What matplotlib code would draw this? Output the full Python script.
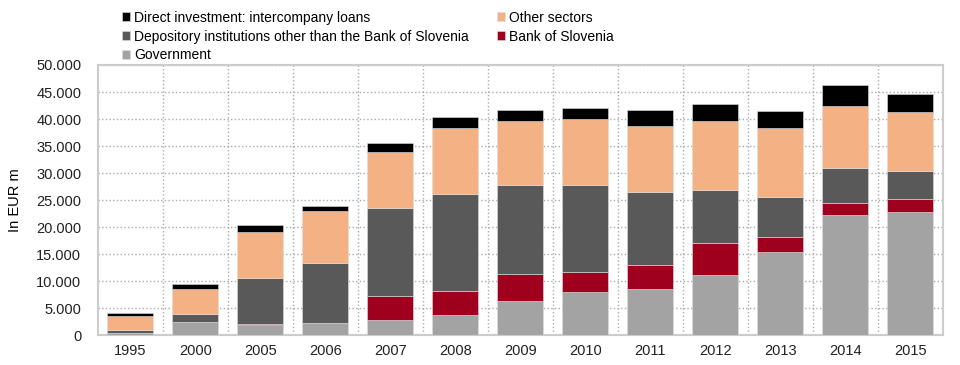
import matplotlib as mpl
import matplotlib.pyplot as plt
from matplotlib.ticker import FuncFormatter, MultipleLocator
import numpy as np

plt.rcParams['font.family'] = ['Liberation Sans Narrow', 'Liberation Sans', 'DejaVu Sans']
plt.rcParams['font.size'] = 10

years = ['1995', '2000', '2005', '2006', '2007', '2008', '2009',
         '2010', '2011', '2012', '2013', '2014', '2015']

# EUR m
government = [460, 2400, 1900, 2250, 2900, 3700, 6400, 8000, 8600, 11100, 15400, 22300, 22900]
bank_of_slovenia = [50, 50, 200, 50, 4400, 4600, 5000, 3800, 4400, 6000, 2800, 2100, 2300]
depository = [500, 1450, 8500, 11000, 16300, 17900, 16400, 16000, 13500, 9800, 7400, 6600, 5200]
other_sectors = [2500, 4600, 8600, 9700, 10400, 12100, 11800, 12200, 12200, 12700, 12700, 11500, 10900]
direct_loans = [600, 1000, 1200, 1000, 1600, 2000, 2100, 2100, 2900, 3200, 3200, 3800, 3400]

series = [
    ('Government', government, '#a3a3a3'),
    ('Bank of Slovenia', bank_of_slovenia, '#9e001e'),
    ('Depository institutions other than the Bank of Slovenia', depository, '#595959'),
    ('Other sectors', other_sectors, '#f4b183'),
    ('Direct investment: intercompany loans', direct_loans, '#000000'),
]

fig, ax = plt.subplots(figsize=(9.6, 3.65), dpi=100)
plt.subplots_adjust(left=0.102, right=0.982, bottom=0.081, top=0.822)

pos = np.arange(len(years))
width = 0.71
bottom = np.zeros(len(years))
bars = {}
for name, vals, col in series:
    bars[name] = ax.bar(pos, vals, width, bottom=bottom, color=col, label=name,
                        edgecolor='#dddddd', linewidth=0.4, zorder=3)
    bottom += np.array(vals)

ax.set_xlim(-0.5, len(years) - 0.5)
ax.set_ylim(0, 50000)
ax.set_xticks(pos)
ax.set_xticklabels(years)
ax.set_xticks(pos[:-1] + 0.5, minor=True)
ax.yaxis.set_major_locator(MultipleLocator(5000))
ax.yaxis.set_major_formatter(FuncFormatter(lambda v, p: '0' if v == 0 else f'{int(v):,}'.replace(',', '.')))
ax.tick_params(axis='both', which='both', length=0, labelsize=10.5, colors='#222222')
ax.tick_params(axis='x', pad=6)
ax.tick_params(axis='y', pad=12)
ax.grid(axis='y', which='major', linestyle=':', color='#aaaaaa', linewidth=1.0, zorder=0)
ax.grid(axis='x', which='minor', linestyle=':', color='#aaaaaa', linewidth=1.0, zorder=0)
ax.set_axisbelow(True)
for s in ax.spines.values():
    s.set_color('#cccccc')
    s.set_linewidth(1.5)

ax.set_ylabel('In EUR m', fontsize=10.5, labelpad=10)

order = ['Direct investment: intercompany loans',
         'Depository institutions other than the Bank of Slovenia',
         'Government', 'Other sectors', 'Bank of Slovenia']
fig.legend([bars[n] for n in order], order, ncol=2, loc='upper left',
           bbox_to_anchor=(0.114, 1.005), frameon=False, fontsize=10,
           handlelength=0.6, handleheight=0.6, handletextpad=0.3,
           labelspacing=0.35, columnspacing=2.0)

plt.savefig('out.png', dpi=100)
